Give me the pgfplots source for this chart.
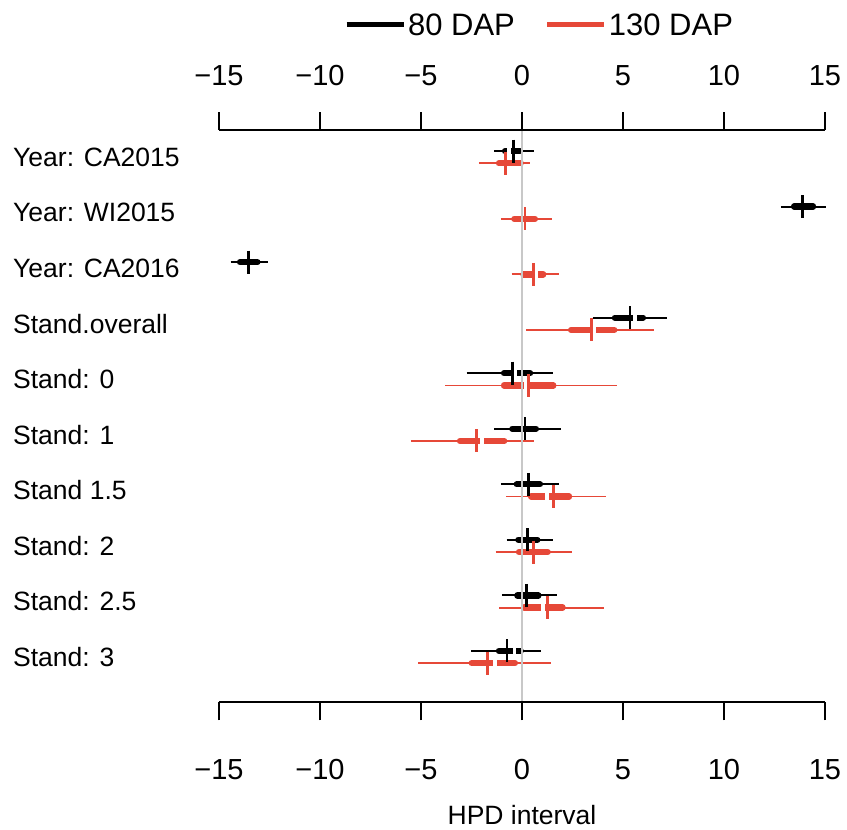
\documentclass[border=0pt]{standalone}
\usepackage{fontspec}
\setmainfont{Liberation Sans}
\usepackage{pgfplots}
\usepackage{pgfplotstable}
\pgfplotsset{compat=1.18}

\definecolor{dapred}{RGB}{230,72,56}
\definecolor{zerogray}{RGB}{200,200,200}

% HPD summaries: y position, 95% interval (lo, hi), 50% interval (qlo, qhi), median
\pgfplotstableread{
y     lo     hi     qlo    qhi    med
0.89  -1.38  0.59   -0.84  -0.10  -0.43
1.89  12.82  15.03  13.47  14.41  13.88
2.89  -14.42 -12.59 -13.96 -13.10 -13.55
3.89  3.51   7.18   4.60   5.99   5.35
4.89  -2.74  1.55   -0.89  0.40   -0.46
5.89  -1.37  1.92   -0.48  0.69   0.15
6.89  -1.04  1.83   -0.26  0.89   0.31
7.89  -0.76  1.55   -0.18  0.76   0.28
8.89  -1.00  1.72   -0.23  0.81   0.23
9.89  -2.52  0.92   -1.14  -0.06  -0.74
}\eighty

\pgfplotstableread{
y     lo     hi     qlo    qhi    med
1.11  -2.13  0.40   -1.14  -0.06  -0.83
2.11  -1.04  1.50   -0.38  0.64   0.15
3.11  -0.51  1.82   0.07   1.05   0.58
4.11  0.20   6.53   2.43   4.57   3.45
5.11  -3.81  4.69   -0.89  1.55   0.31
6.11  -5.50  0.61   -3.07  -0.88  -2.24
7.11  -0.79  4.16   0.45   2.33   1.55
8.11  -1.30  2.46   -0.15  1.27   0.56
9.11  -1.12  4.06   0.11   2.01   1.27
10.11 -5.13  1.42   -2.49  -0.35  -1.70
}\onethirty

% white breaks in the thick segments (from a to b)
\pgfplotstableread{
y     a      b
0.89  -0.72  -0.56
3.89  5.51   5.69
4.89  -0.41  -0.23
9.89  -0.46  -0.28
}\eightygap

\pgfplotstableread{
y     a      b
3.11  0.64   0.80
4.11  3.36   3.68
5.11  0.10   0.34
6.11  -2.08  -1.88
7.11  1.14   1.34
9.11  0.96   1.12
10.11 -1.43  -1.25
}\onethirtygap

\pgfplotsset{
  hpd common/.style={
    width=606pt, height=572pt, scale only axis,
    at={(219pt,128pt)}, anchor=south west,
    xmin=-15, xmax=15, ymin=0.51, ymax=10.81, y dir=reverse,
    clip=false,
    separate axis lines,
    x axis line style={line width=1.5pt, black},
    y axis line style={draw=none},
    xtick={-15,-10,-5,0,5,10,15},
    xticklabels={−15,−10,−5,0,5,10,15},
    tick align=outside, major tick length=18pt,
    xtick style={line width=1.5pt, black},
    xticklabel style={font=\fontsize{29}{29}\selectfont},
  },
  % one horizontal segment per row, from the x column to x + plus
  hpd bar/.style n args={3}{
    draw=none, mark=none, forget plot,
    error bars/.cd, x dir=plus, x explicit, error mark=none,
    error bar style={line width=#2, draw=#1, line cap=#3},
  },
}

\begin{document}
\begin{tikzpicture}
\path[use as bounding box] (0,0) rectangle (847pt,830pt);

\begin{axis}[
  hpd common,
  xticklabel style={yshift=-36pt},
  ytick={1,...,10},
  yticklabels={Year: CA2015, Year: WI2015, Year: CA2016, Stand.overall,
    Stand: 0, Stand: 1, Stand 1.5, Stand: 2, Stand: 2.5, Stand: 3},
  ytick style={draw=none},
  yticklabel style={anchor=west, inner sep=0pt, xshift=-188pt,
    font=\fontsize{26.5}{26.5}\selectfont},
  xlabel={HPD interval},
  xlabel style={at={(axis description cs:0.5,-0.198)}, anchor=center,
    font=\fontsize{26.5}{26.5}\selectfont},
  legend columns=2,
  legend style={draw=none, fill=none, at={(axis description cs:0.529,1.1836)},
    anchor=center, font=\fontsize{31}{31}\selectfont,
    nodes={inner xsep=2pt, inner ysep=0pt},
    /tikz/every even column/.append style={column sep=28pt}},
  legend image code/.code={\draw[#1, line width=5pt] (0pt,0pt) -- (57pt,0pt);},
]
\addlegendimage{black}
\addlegendentry{80 DAP}
\addlegendimage{dapred}
\addlegendentry{130 DAP}

% 80 DAP
\addplot[hpd bar={black}{1.9pt}{butt}] table[x=lo, y=y,
  x error plus expr=\thisrow{hi}-\thisrow{lo}] {\eighty};
\addplot[hpd bar={black}{6.3pt}{round}] table[x=qlo, y=y,
  x error plus expr=\thisrow{qhi}-\thisrow{qlo}] {\eighty};
\addplot[hpd bar={white}{8pt}{butt}] table[x=a, y=y,
  x error plus expr=\thisrow{b}-\thisrow{a}] {\eightygap};
\addplot[only marks, forget plot, mark=|, mark size=11.5pt,
  mark options={line width=2.6pt, draw=black}] table[x=med, y=y] {\eighty};

% 130 DAP
\addplot[hpd bar={dapred}{1.9pt}{butt}] table[x=lo, y=y,
  x error plus expr=\thisrow{hi}-\thisrow{lo}] {\onethirty};
\addplot[hpd bar={dapred}{6.3pt}{round}] table[x=qlo, y=y,
  x error plus expr=\thisrow{qhi}-\thisrow{qlo}] {\onethirty};
\addplot[hpd bar={white}{8pt}{butt}] table[x=a, y=y,
  x error plus expr=\thisrow{b}-\thisrow{a}] {\onethirtygap};
\addplot[only marks, forget plot, mark=|, mark size=11.5pt,
  mark options={line width=2.6pt, draw=dapred}] table[x=med, y=y] {\onethirty};

% reference line at zero
\addplot[zerogray, line width=2pt, forget plot] coordinates {(0,0.186) (0,11.13)};
\end{axis}

\begin{axis}[
  hpd common,
  xticklabel pos=upper,
  xticklabel style={yshift=23pt},
  ytick=\empty,
]
\end{axis}
\end{tikzpicture}
\end{document}
